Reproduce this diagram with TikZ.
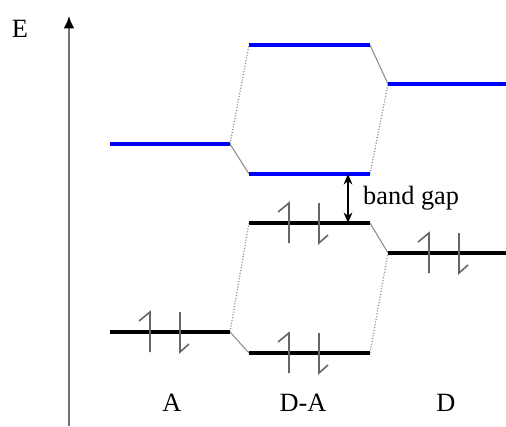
\documentclass[tikz,border=0pt]{standalone}
\usepackage{fontspec}
\setmainfont{Liberation Serif}
\usetikzlibrary{arrows.meta}
\colorlet{axisgray}{black!55}
\colorlet{linkgray}{black!45}
\colorlet{spingray}{black!60}
\tikzset{
  lumo/.style   ={draw=blue, line width=2pt},
  homo/.style   ={draw=black, line width=2pt},
  link/.style   ={draw=linkgray, line width=0.6pt},
  linkdot/.style={link, densely dotted, line width=0.7pt},
  spin/.style   ={draw=spingray, line width=0.9pt},
  axislbl/.style={font=\fontsize{15}{18}\selectfont},
  pics/updown/.style={code={
    \draw[spin] (-15,20) -- (-15,-20) -- (-26,-11);
    \draw[spin] ( 15,-20) -- ( 15,20) -- (24,12);
  }},
}
\begin{document}
\begin{tikzpicture}[x=0.02cm, y=-0.02cm]
\useasboundingbox (0,0) rectangle (506,426);

% energy axis
\coordinate (ax0) at (69,426);
\coordinate (ax1) at (69,16);
\draw[axisgray, line width=1.1pt, -{Latex[color=black, length=7pt, width=6pt]}] (ax0) -- (ax1);
\node[axislbl] (E) at (20,29) {E};

% level end points
\coordinate (AuL) at (110,144);  \coordinate (AuR) at (230,144);
\coordinate (AoL) at (110,332);  \coordinate (AoR) at (230,332);
\coordinate (Mu2L) at (249,45);  \coordinate (Mu2R) at (370,45);
\coordinate (Mu1L) at (249,174); \coordinate (Mu1R) at (370,174);
\coordinate (Mo2L) at (249,223); \coordinate (Mo2R) at (370,223);
\coordinate (Mo1L) at (249,353); \coordinate (Mo1R) at (370,353);
\coordinate (DuL) at (388,84);   \coordinate (DuR) at (506,84);
\coordinate (DoL) at (388,253);  \coordinate (DoR) at (506,253);

% correlation lines
\draw[linkdot] (AuR) -- (Mu2L);
\draw[link]    (AuR) -- (Mu1L);
\draw[link]    (Mu2R) -- (DuL);
\draw[linkdot] (Mu1R) -- (DuL);
\draw[linkdot] (AoR) -- (Mo2L);
\draw[link]    (AoR) -- (Mo1L);
\draw[link]    (Mo2R) -- (DoL);
\draw[linkdot] (Mo1R) -- (DoL);

% levels
\draw[lumo] (AuL) -- (AuR);
\draw[lumo] (Mu2L) -- (Mu2R);
\draw[lumo] (Mu1L) -- (Mu1R);
\draw[lumo] (DuL) -- (DuR);
\draw[homo] (AoL) -- (AoR);
\draw[homo] (Mo2L) -- (Mo2R);
\draw[homo] (Mo1L) -- (Mo1R);
\draw[homo] (DoL) -- (DoR);

% electron pairs
\pic at (165,332) {updown};
\pic at (304,223) {updown};
\pic at (304,353) {updown};
\pic at (444,253) {updown};

% band gap
\coordinate (gapT) at (348,174);
\coordinate (gapB) at (348,223);
\draw[line width=0.8pt, {Stealth[length=6pt, width=5pt]}-{Stealth[length=6pt, width=5pt]}]
  (gapT) -- (gapB);
\node[axislbl, anchor=west] (gap) at (357,198) {band gap};

% labels
\node[axislbl] (lA)  at (172,403) {A};
\node[axislbl] (lDA) at (303,403) {D-A};
\node[axislbl] (lD)  at (446,403) {D};

\end{tikzpicture}
\end{document}
